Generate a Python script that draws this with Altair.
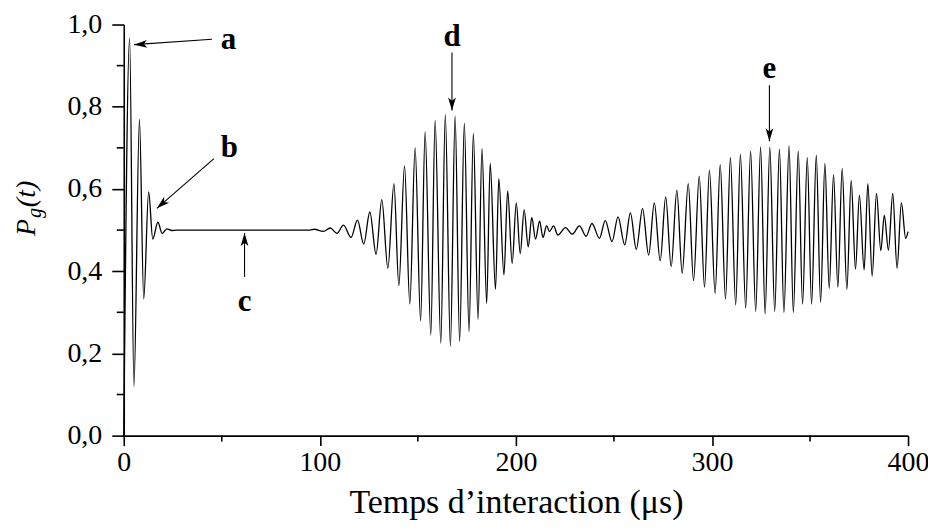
import altair as alt
import pandas as pd

# ---- curve P_g(t): values (extrema of the oscillation) ----
t_us = [0.0, 3.0, 5.2, 8.0, 10.2, 12.7, 14.8, 17.4, 19.6, 22.0, 24.5, 27.0, 50.0, 75.0, 95.0,
        97.2, 101.8, 105.3, 108.7, 112.1, 115.9, 119.2, 122.4, 125.5, 128.7, 131.6, 134.7,
        137.8, 140.3, 143.2, 145.9, 148.6, 151.4, 153.7, 156.6, 158.8, 161.7, 164.0, 166.6,
        169.0, 171.3, 173.7, 176.1, 178.3, 180.7, 182.7, 185.1, 186.9, 189.6, 191.3, 193.9,
        195.8, 198.1, 200.2, 202.2, 204.2, 206.3, 208.1, 210.0, 212.1, 213.8, 215.7, 217.1,
        219.2, 221.4, 225.3, 228.7, 232.4, 235.8, 238.8, 242.6, 245.6, 249.0, 252.1, 255.5,
        258.4, 261.4, 264.6, 267.7, 270.6, 273.6, 276.4, 279.2, 282.1, 284.8, 287.9, 290.6,
        293.5, 296.2, 298.7, 301.6, 304.2, 306.9, 309.4, 312.1, 314.5, 317.2, 319.7, 322.3,
        324.8, 327.1, 329.5, 332.0, 334.4, 336.7, 339.3, 341.5, 344.0, 346.2, 348.6, 350.8,
        353.2, 355.4, 357.6, 359.8, 362.0, 364.2, 366.4, 368.8, 371.0, 373.2, 375.2, 377.6,
        379.5, 381.7, 383.9, 386.1, 387.9, 390.0, 392.2, 394.4, 396.6, 398.8, 400.0]
p_g = [0.0, 0.967, 0.12, 0.769, 0.333, 0.593, 0.478, 0.519, 0.492, 0.503, 0.499, 0.5, 0.5, 0.5, 0.5,
       0.502, 0.497, 0.505, 0.492, 0.512, 0.482, 0.524, 0.466, 0.544, 0.441, 0.574, 0.407,
       0.613, 0.365, 0.656, 0.320, 0.700, 0.279, 0.739, 0.245, 0.767, 0.225, 0.781, 0.218,
       0.777, 0.229, 0.760, 0.253, 0.735, 0.283, 0.698, 0.322, 0.662, 0.356, 0.625, 0.391,
       0.595, 0.419, 0.566, 0.443, 0.549, 0.459, 0.531, 0.478, 0.522, 0.482, 0.511, 0.496,
       0.510, 0.488, 0.506, 0.490, 0.510, 0.485, 0.516, 0.480, 0.523, 0.472, 0.532, 0.464,
       0.542, 0.453, 0.552, 0.439, 0.566, 0.425, 0.581, 0.411, 0.597, 0.395, 0.613, 0.377,
       0.631, 0.361, 0.646, 0.346, 0.659, 0.332, 0.676, 0.318, 0.684, 0.310, 0.692, 0.302,
       0.702, 0.296, 0.702, 0.302, 0.697, 0.299, 0.705, 0.299, 0.692, 0.320, 0.676, 0.320,
       0.682, 0.324, 0.662, 0.358, 0.635, 0.361, 0.650, 0.356, 0.621, 0.405, 0.585, 0.403,
       0.613, 0.388, 0.589, 0.450, 0.536, 0.451, 0.589, 0.407, 0.566, 0.480, 0.496]

# ---- axes ----
y_major = [0.0, 0.2, 0.4, 0.6, 0.8, 1.0]
y_minor = [0.1, 0.3, 0.5, 0.7, 0.9]
x_major = [0, 100, 200, 300, 400]
x_minor = [50, 150, 250, 350]

# ---- annotations ----
label_text = ["a", "b", "c", "d", "e"]
label_t = [53.4, 53.9, 61.6, 167.4, 329.3]
label_p = [0.963, 0.700, 0.326, 0.969, 0.891]

arrow_t0 = [45.0, 46.0, 61.6, 167.4, 329.3]
arrow_p0 = [0.964, 0.674, 0.386, 0.932, 0.852]
arrow_t1 = [5.3, 16.9, 61.6, 167.4, 329.3]
arrow_p1 = [0.951, 0.553, 0.493, 0.791, 0.716]
arrow_angle = [266.3, 228.8, 0, 180, 180]

W, H = 786, 412
SERIF = "Liberation Serif"
XTITLE = "Temps d’interaction (μs)"

xs = alt.Scale(domain=[0, 400], nice=False, zero=False)
ys = alt.Scale(domain=[0, 1], nice=False, zero=False)
x_axis = alt.Axis(values=x_major, format="d", title=XTITLE, tickSize=10,
                  labelPadding=3, titlePadding=9, grid=False)
y_axis = alt.Axis(values=y_major, title=None, tickSize=12, labelPadding=10, grid=False,
                  labelExpr="replace(format(datum.value, '.1f'), '.', ',')")


def X(f):
    return alt.X(f, scale=xs, axis=x_axis, title=XTITLE)


def Y(f):
    return alt.Y(f, scale=ys, axis=y_axis, title=None)


curve_df = pd.DataFrame({"t": t_us, "p": p_g})
curve = alt.Chart(curve_df).mark_line(
    interpolate="monotone", color="black", strokeWidth=1.3
).encode(x=X("t:Q"), y=Y("p:Q"))

yminor = alt.Chart(pd.DataFrame({"v": y_minor})).mark_rule(
    color="black", strokeWidth=1.6
).encode(y=Y("v:Q"), x=alt.value(-7), x2=alt.value(0))

xminor = alt.Chart(pd.DataFrame({"v": x_minor})).mark_rule(
    color="black", strokeWidth=1.6
).encode(x=X("v:Q"), y=alt.value(H), y2=alt.value(H + 6))

arrows_df = pd.DataFrame({"t0": arrow_t0, "p0": arrow_p0, "t1": arrow_t1,
                          "p1": arrow_p1, "ang": arrow_angle})
shafts = alt.Chart(arrows_df).mark_rule(color="black", strokeWidth=1.1).encode(
    x=X("t0:Q"), y=Y("p0:Q"), x2="t1:Q", y2="p1:Q",
)
heads = alt.Chart(arrows_df).mark_point(
    shape="M0,0 L0.3,1 L0,0.75 L-0.3,1 Z", filled=True, color="black",
    opacity=1, size=676, strokeWidth=0
).encode(
    x=X("t1:Q"), y=Y("p1:Q"),
    angle=alt.Angle("ang:Q", scale=None),
)

labels_df = pd.DataFrame({"s": label_text, "t": label_t, "p": label_p})
labels = alt.Chart(labels_df).mark_text(
    font=SERIF, fontSize=31, fontWeight="bold", color="black",
    align="center", baseline="middle"
).encode(x=X("t:Q"), y=Y("p:Q"), text="s:N")


def ytitle_piece(s, x, y, size):
    return alt.Chart(pd.DataFrame({"s": [s]})).mark_text(
        font=SERIF, fontSize=size, fontStyle="italic", color="black",
        align="left", baseline="alphabetic", angle=270
    ).encode(text="s:N", x=alt.value(x), y=alt.value(y))


ytitle = (ytitle_piece("P", -89, 212, 28)
          + ytitle_piece("g", -83, 194, 20)
          + ytitle_piece("(t)", -89, 183, 28))

chart = alt.layer(curve, yminor, xminor, shafts, heads, labels, ytitle).properties(
    width=W, height=H,
    autosize=alt.AutoSizeParams(type="none"),
    padding={"left": 116, "top": 16, "right": 20, "bottom": 88},
).configure_view(stroke=None).configure_axis(
    domainColor="black", domainWidth=1.6, tickColor="black", tickWidth=1.6,
    labelFont=SERIF, labelFontSize=28, labelColor="black",
    titleFont=SERIF, titleFontSize=34, titleFontWeight="normal", titleColor="black",
    labelFlush=False, labelOverlap=False,
)

chart.save("out.html", embed_options={"renderer": "svg", "actions": False})
